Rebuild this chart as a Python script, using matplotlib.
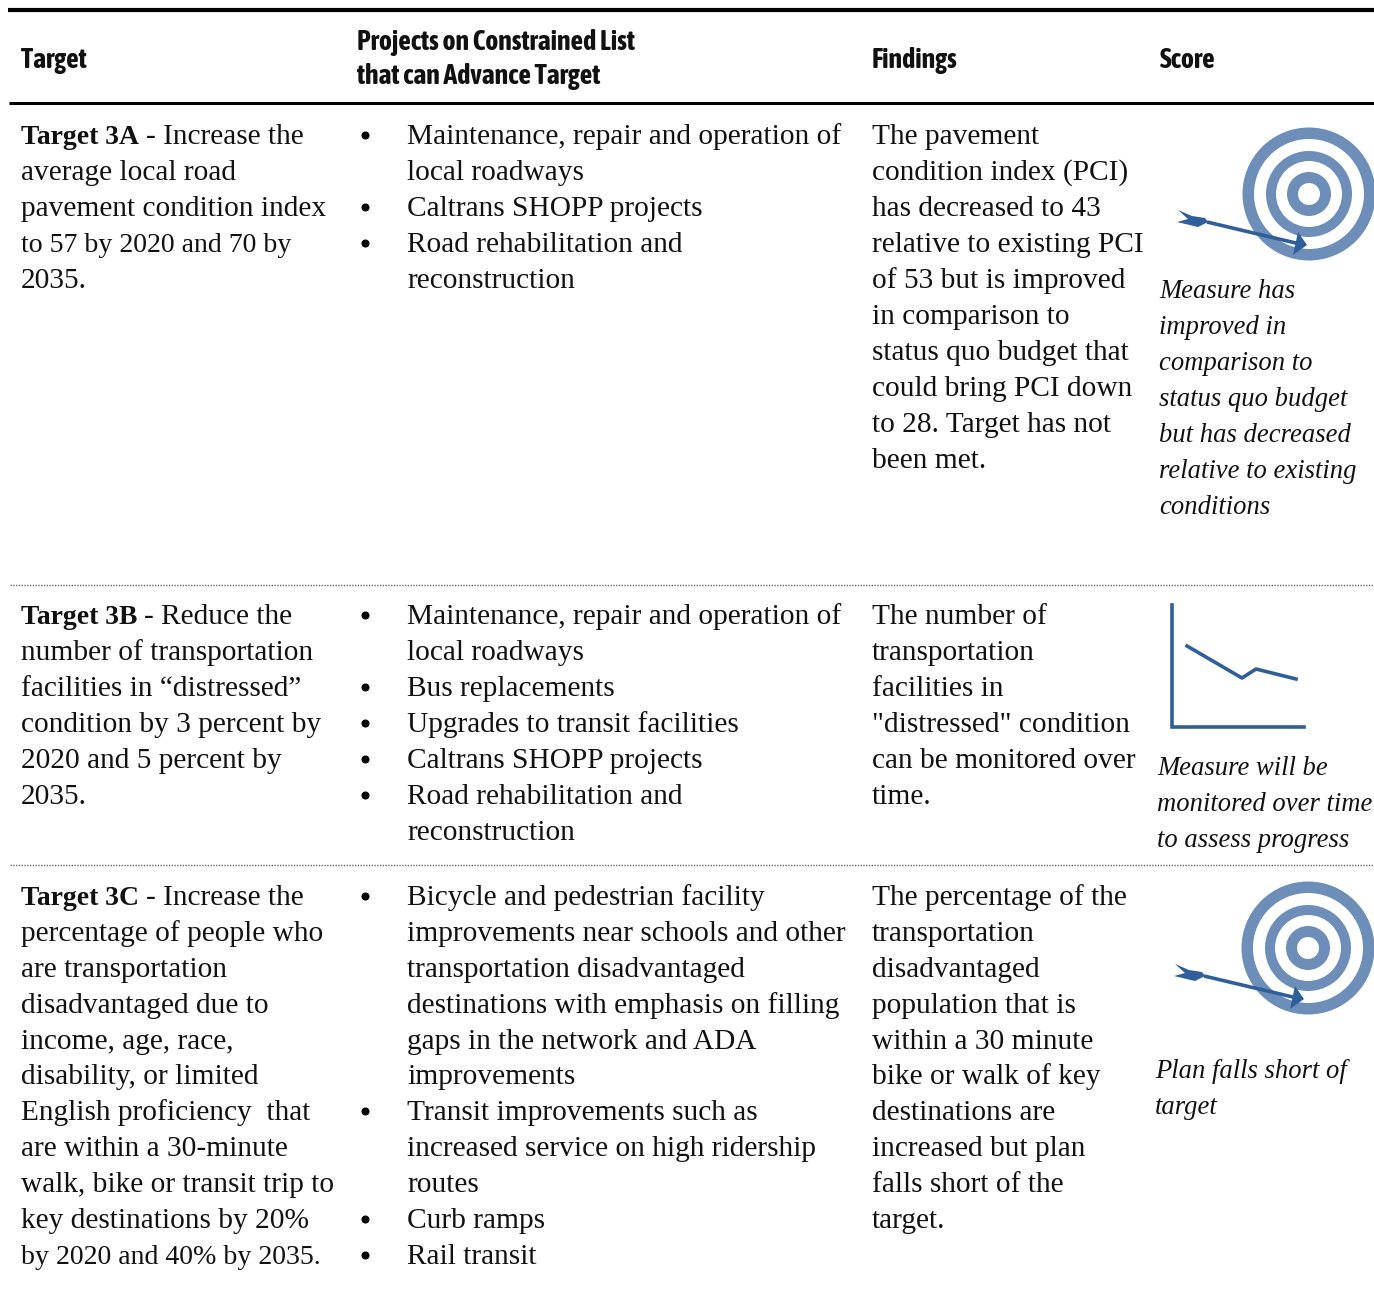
import matplotlib
matplotlib.use("Agg")
import matplotlib.pyplot as plt
import matplotlib.patheffects as pe
from matplotlib import font_manager as fm
from matplotlib.patches import Circle, Polygon

headers = ["Target", "Projects on Constrained List\nthat can Advance Target", "Findings", "Score"]

target_labels = ["Target 3A", "Target 3B", "Target 3C"]
target_first = [" - Increase the", " - Reduce the", " - Increase the"]
target_rest = [
    ["average local road", "pavement condition index", "to 57 by 2020 and 70 by", "2035."],
    ["number of transportation", "facilities in “distressed”", "condition by 3 percent by", "2020 and 5 percent by", "2035."],
    ["percentage of people who", "are transportation", "disadvantaged due to", "income, age, race,", "disability, or limited",
     "English proficiency  that", "are within a 30-minute", "walk, bike or transit trip to", "key destinations by 20%",
     "by 2020 and 40% by 2035."],
]
projects = [
    [["Maintenance, repair and operation of", "local roadways"], ["Caltrans SHOPP projects"],
     ["Road rehabilitation and", "reconstruction"]],
    [["Maintenance, repair and operation of", "local roadways"], ["Bus replacements"], ["Upgrades to transit facilities"],
     ["Caltrans SHOPP projects"], ["Road rehabilitation and", "reconstruction"]],
    [["Bicycle and pedestrian facility", "improvements near schools and other", "transportation disadvantaged",
      "destinations with emphasis on filling", "gaps in the network and ADA", "improvements"],
     ["Transit improvements such as", "increased service on high ridership", "routes"], ["Curb ramps"], ["Rail transit"]],
]
findings = [
    ["The pavement", "condition index (PCI)", "has decreased to 43", "relative to existing PCI", "of 53 but is improved",
     "in comparison to", "status quo budget that", "could bring PCI down", "to 28. Target has not", "been met."],
    ["The number of", "transportation", "facilities in", "\"distressed\" condition", "can be monitored over", "time."],
    ["The percentage of the", "transportation", "disadvantaged", "population that is", "within a 30 minute",
     "bike or walk of key", "destinations are", "increased but plan", "falls short of the", "target."],
]
scores = [
    ["Measure has", "improved in", "comparison to", "status quo budget", "but has decreased", "relative to existing", "conditions"],
    ["Measure will be", "monitored over time", "to assess progress"],
    ["Plan falls short of", "target"],
]
trend_x = [1187, 1242, 1256, 1296]
trend_y = [646, 678, 669, 679]

W, H = 1374, 1308
fig = plt.figure(figsize=(W / 100, H / 100), dpi=100)
ax = fig.add_axes([0, 0, 1, 1])
ax.set_xlim(0, W)
ax.set_ylim(H, 0)
ax.axis("off")

SERIF = ["Liberation Serif", "DejaVu Serif"]
is_narrow = lambda n: "narrow" in n.lower() or "condensed" in n.lower()
narrow_any = sorted({f.name for f in fm.fontManager.ttflist if is_narrow(f.name)})
narrow_bold = sorted({f.name for f in fm.fontManager.ttflist
                      if is_narrow(f.name) and (f.weight == "bold" or f.weight == 700)})
HEAD = (narrow_bold or narrow_any)[:1] + ["Roboto"]
HEAD_FS = 20.0 if narrow_any else 16.5
# a family without a bold face gets a thin outline to reach the same weight
HEAD_FX = [] if narrow_bold else [pe.withStroke(linewidth=0.7, foreground="#111111")]
FS = 21.2
PITCH = 36.0
INK = "#111111"
BLUE = "#2F5F9A"
RING = "#6C8EB8"


def body(x, y, s, **kw):
    digits = sum(c.isdigit() for c in s)
    size = 20.1 if digits >= 6 else FS
    return ax.text(x, y, s, family=SERIF, fontsize=kw.pop("fontsize", size), color=INK, va="baseline", **kw)


# rules
ax.plot([8, W], [10, 10], color="black", lw=3.0, solid_capstyle="butt")
ax.plot([9, W], [103, 103], color="black", lw=2.2, solid_capstyle="butt")
for y in (585, 865):
    ax.plot([10, W], [y, y], color="#666666", lw=1.0, ls=(0, (1, 1)))

# headers
hk = dict(family=HEAD, fontweight="bold", fontsize=HEAD_FS, color=INK, va="baseline", path_effects=HEAD_FX)
ax.text(21, 67.5, headers[0], **hk)
for i, s in enumerate(headers[1].split("\n")):
    ax.text(357, 49.5 + 35 * i, s, **hk)
ax.text(872, 67.5, headers[2], **hk)
ax.text(1160, 67.5, headers[3], **hk)

starts = [144, 624, 905]
p3 = 35.9

fig.canvas.draw()
rend = fig.canvas.get_renderer()
for r, y0 in enumerate(starts):
    pitch = p3 if r == 2 else PITCH
    lab = body(21, y0, target_labels[r], fontweight="bold", fontsize=19.9)
    bb = lab.get_window_extent(rend)
    body(bb.x1 + 7, y0, target_first[r].strip())
    for i, s in enumerate(target_rest[r]):
        body(21, y0 + pitch * (i + 1), s)
    n = 0
    for item in projects[r]:
        ax.plot([365], [y0 + pitch * n - 9], "o", ms=5.8, color="black", mew=0)
        for s in item:
            body(407, y0 + pitch * n, s)
            n += 1
    for i, s in enumerate(findings[r]):
        body(872, y0 + pitch * i, s)

# score text
score_x = [1159, 1157, 1155]
score_y = [298.5, 775, 1078]
for r in range(3):
    for i, s in enumerate(scores[r]):
        body(score_x[r], score_y[r] + PITCH * i, s, style="italic", fontsize=19.2)


def target(cx, cy, dx):
    for rad, c in ((66.5, RING), (55, "white"), (43, RING), (33, "white"), (22, RING), (11, "white")):
        ax.add_patch(Circle((cx, cy), rad, fc=c, ec="none", zorder=3))
    ax.plot([1207 + dx, 1300 + dx], [cy + 28, cy + 50], color=BLUE, lw=2.6, zorder=4, solid_capstyle="butt")
    ax.add_patch(Polygon([(1298 + dx, cy + 38), (1307 + dx, cy + 51), (1293 + dx, cy + 61)],
                         fc=BLUE, ec="none", zorder=4))
    ax.add_patch(Polygon([(1178 + dx, cy + 16), (1192 + dx, cy + 22), (1205 + dx, cy + 24), (1208 + dx, cy + 28),
                          (1198 + dx, cy + 33), (1177 + dx, cy + 28), (1188 + dx, cy + 25)],
                         fc=BLUE, ec="none", zorder=4))


target(1309, 194, 0)
target(1308, 948, -3)

# trend icon
ax.plot([1172, 1172, 1304], [605, 727, 727], color=BLUE, lw=2.6, solid_joinstyle="miter")
ax.plot(trend_x, trend_y, color=BLUE, lw=2.6)

fig.savefig("out.png", dpi=100)
